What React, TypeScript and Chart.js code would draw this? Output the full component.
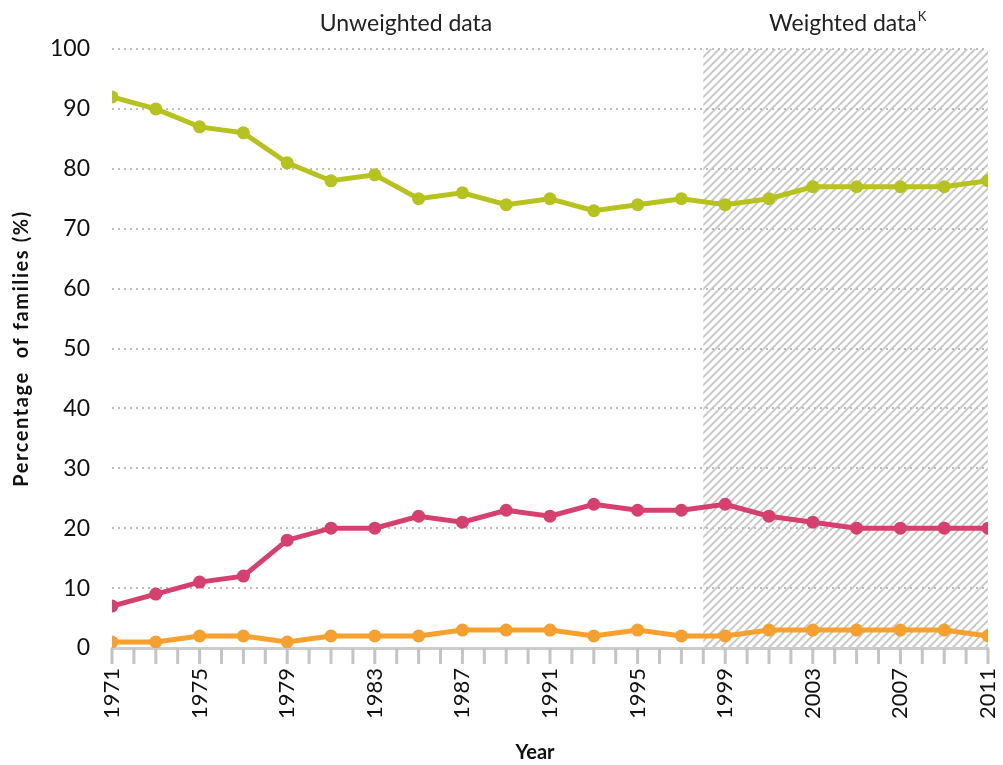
import React, { useEffect, useRef } from "react";
import { Chart, registerables } from "chart.js";

Chart.register(...registerables);

const years = [1971, 1973, 1975, 1977, 1979, 1981, 1983, 1985, 1987, 1989, 1991, 1993, 1995, 1997, 1999, 2001, 2003, 2005, 2007, 2009, 2011];
const greenValues = [92, 90, 87, 86, 81, 78, 79, 75, 76, 74, 75, 73, 74, 75, 74, 75, 77, 77, 77, 77, 78];
const pinkValues = [7, 9, 11, 12, 18, 20, 20, 22, 21, 23, 22, 24, 23, 23, 24, 22, 21, 20, 20, 20, 20];
const orangeValues = [1, 1, 2, 2, 1, 2, 2, 2, 3, 3, 3, 2, 3, 2, 2, 3, 3, 3, 3, 3, 2];
const weightedStart = 1998;
const weightedEnd = 2011;
const yTicks = [0, 10, 20, 30, 40, 50, 60, 70, 80, 90, 100];
const xMin = 1971;
const xMax = 2011;

const GREEN = "#b6c21d";
const PINK = "#d6406e";
const ORANGE = "#f5a02f";
const FONT = "Lato, 'Open Sans', sans-serif";

const hatchPlugin = {
  id: "hatch",
  beforeDraw(chart: any) {
    const { ctx, chartArea, scales } = chart;
    const x0 = scales.x.getPixelForValue(weightedStart);
    const x1 = scales.x.getPixelForValue(weightedEnd);
    const top = chartArea.top;
    const bottom = chartArea.bottom;
    ctx.save();
    ctx.beginPath();
    ctx.rect(x0, top, x1 - x0, bottom - top);
    ctx.clip();
    ctx.strokeStyle = "#c9c9c9";
    ctx.lineWidth = 2;
    const h = bottom - top;
    for (let s = x0 - h; s < x1 + 10; s += 8) {
      ctx.beginPath();
      ctx.moveTo(s, bottom);
      ctx.lineTo(s + h, top);
      ctx.stroke();
    }
    ctx.restore();
  },
  afterDraw(chart: any) {
    const { ctx, scales, chartArea } = chart;
    ctx.save();
    // x tick marks for every year
    ctx.fillStyle = "#c4c4c4";
    const b = chartArea.bottom;
    for (let v = xMin; v <= xMax; v++) {
      const px = scales.x.getPixelForValue(v);
      ctx.fillRect(px - 1.5, b, 3, 16);
    }
    ctx.fillStyle = "#222";
    ctx.textBaseline = "middle";
    ctx.textAlign = "center";
    ctx.font = `23px ${FONT}`;
    ctx.fillText("Unweighted data", 406, 24);
    const wText = "Weighted data";
    ctx.textAlign = "left";
    const wWidth = ctx.measureText(wText).width;
    const wx = 769;
    ctx.fillText(wText, wx, 24);
    ctx.font = `13px ${FONT}`;
    ctx.fillText("K", wx + wWidth + 1, 17);
    ctx.fillStyle = "#111";
    ctx.textAlign = "center";
    ctx.font = `bold 20px ${FONT}`;
    ctx.fillText("Year", 535, 753);
    // y title
    ctx.translate(22, (chartArea.top + chartArea.bottom) / 2);
    ctx.rotate(-Math.PI / 2);
    (ctx as any).letterSpacing = "1.6px";
    ctx.fillText("Percentage  of families (%)", 0, 0);
    ctx.restore();
  },
};

export default function App() {
  const ref = useRef<HTMLCanvasElement | null>(null);
  useEffect(() => {
    if (!ref.current) return;
    const mk = (vals: number[], color: string) => ({
      data: years.map((y, i) => ({ x: y, y: vals[i] })),
      borderColor: color,
      backgroundColor: color,
      borderWidth: 5,
      pointRadius: 6.5,
      pointBorderWidth: 0,
      pointBackgroundColor: color,
      tension: 0,
    });
    const chart = new Chart(ref.current, {
      type: "line",
      data: {
        datasets: [mk(greenValues, GREEN), mk(pinkValues, PINK), mk(orangeValues, ORANGE)],
      },
      options: {
        animation: false,
        responsive: false,
        maintainAspectRatio: false,
        layout: { padding: { top: 49, right: 15, bottom: 0, left: 0 } },
        plugins: { legend: { display: false }, tooltip: { enabled: false } },
        scales: {
          x: {
            type: "linear",
            min: xMin,
            max: xMax,
            afterBuildTicks(scale: any) {
              const t = [];
              for (let v = xMin; v <= xMax; v += 4) t.push({ value: v });
              scale.ticks = t;
            },
            afterFit(scale: any) {
              scale.height = 117;
              scale.paddingLeft = 0;
              scale.paddingRight = 0;
            },
            ticks: {
              autoSkip: false,
              minRotation: 90,
              maxRotation: 90,
              padding: 20,
              color: "#111",
              font: { family: FONT, size: 22 },
              callback: (v: any) => String(v),
            },
            grid: {
              drawOnChartArea: false,
              drawTicks: false,
            },
            border: { display: true, color: "#cccccc", width: 3 },
          },
          y: {
            min: 0,
            max: 100,
            afterBuildTicks(scale: any) {
              scale.ticks = yTicks.map((v) => ({ value: v }));
            },
            afterFit(scale: any) {
              scale.width = 112;
            },
            ticks: {
              padding: 22,
              color: "#111",
              font: { family: FONT, size: 23 },
            },
            grid: {
              drawTicks: false,
              color: (c: any) => (c.tick && c.tick.value === 0 ? "rgba(0,0,0,0)" : "#bdbdbd"),
              lineWidth: 2,
            },
            border: { display: false, dash: [2, 4] },
          },
        },
      } as any,
      plugins: [hatchPlugin],
    });
    return () => chart.destroy();
  }, []);
  return (
    <div style={{ position: "fixed", left: 0, top: 0, width: 1003, height: 765, background: "#fff" }}>
      <canvas ref={ref} width={1003} height={765} style={{ width: 1003, height: 765 }} />
    </div>
  );
}
